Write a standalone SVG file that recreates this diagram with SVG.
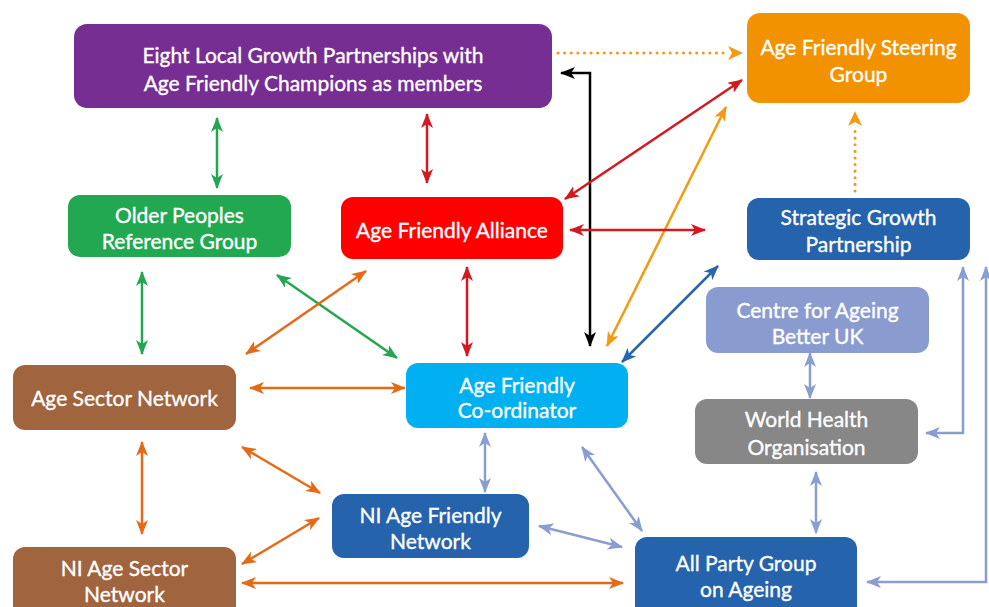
<svg xmlns="http://www.w3.org/2000/svg" width="989" height="607" viewBox="0 0 989 607">
<style>
  .n text { font-family: Lato, "Open Sans", "Liberation Sans", sans-serif; font-size: 21px; fill: #ffffff; stroke: #ffffff; stroke-width: 0.35; text-anchor: middle; }
  .c path { fill: none; stroke-width: 2.5; }
  .c path.head { stroke: none; fill: #f39a12; }
  .g { stroke: #23a651; }
  .r { stroke: #d2191f; }
  .o1 { stroke: #f39a12; }
  .o2 { stroke: #e56a17; }
  .k { stroke: #000000; }
  .b { stroke: #2566b0; }
  .lb { stroke: #8a9dd0; }
  .c path.dot { stroke-dasharray: 0.1 6.5; stroke-linecap: round; stroke-width: 3; }
</style>
<defs>
  <marker id="mg" viewBox="0 0 15 12" markerWidth="15" markerHeight="12" refX="14" refY="6" orient="auto-start-reverse" markerUnits="userSpaceOnUse"><path d="M0,0 L15,6 L0,12 L4,6 Z" fill="#23a651"/></marker>
  <marker id="mr" viewBox="0 0 15 12" markerWidth="15" markerHeight="12" refX="14" refY="6" orient="auto-start-reverse" markerUnits="userSpaceOnUse"><path d="M0,0 L15,6 L0,12 L4,6 Z" fill="#d2191f"/></marker>
  <marker id="mo1" viewBox="0 0 15 12" markerWidth="15" markerHeight="12" refX="14" refY="6" orient="auto-start-reverse" markerUnits="userSpaceOnUse"><path d="M0,0 L15,6 L0,12 L4,6 Z" fill="#f39a12"/></marker>
  <marker id="mo2" viewBox="0 0 15 12" markerWidth="15" markerHeight="12" refX="14" refY="6" orient="auto-start-reverse" markerUnits="userSpaceOnUse"><path d="M0,0 L15,6 L0,12 L4,6 Z" fill="#e56a17"/></marker>
  <marker id="mk" viewBox="0 0 15 12" markerWidth="15" markerHeight="12" refX="14" refY="6" orient="auto-start-reverse" markerUnits="userSpaceOnUse"><path d="M0,0 L15,6 L0,12 L4,6 Z" fill="#000000"/></marker>
  <marker id="mb" viewBox="0 0 15 12" markerWidth="15" markerHeight="12" refX="14" refY="6" orient="auto-start-reverse" markerUnits="userSpaceOnUse"><path d="M0,0 L15,6 L0,12 L4,6 Z" fill="#2566b0"/></marker>
  <marker id="mlb" viewBox="0 0 15 12" markerWidth="15" markerHeight="12" refX="14" refY="6" orient="auto-start-reverse" markerUnits="userSpaceOnUse"><path d="M0,0 L15,6 L0,12 L4,6 Z" fill="#8a9dd0"/></marker>
</defs>
<rect width="989" height="607" fill="#ffffff"/>

<g id="n-lgp" class="n"><rect x="74" y="24" width="478" height="84" rx="13" fill="#762e92"/><text x="313" y="63">Eight Local Growth Partnerships with</text><text x="313" y="91">Age Friendly Champions as members</text></g>
<g id="n-steering" class="n"><rect x="747" y="13" width="223" height="90" rx="13" fill="#f39200"/><text x="858.5" y="55">Age Friendly Steering</text><text x="858.5" y="82">Group</text></g>
<g id="n-oprg" class="n"><rect x="68" y="195" width="223" height="62" rx="12" fill="#23a852"/><text x="179.5" y="223">Older Peoples</text><text x="179.5" y="249">Reference Group</text></g>
<g id="n-afa" class="n"><rect x="341" y="197" width="222" height="62" rx="12" fill="#ff0000"/><text x="452" y="238">Age Friendly Alliance</text></g>
<g id="n-sgp" class="n"><rect x="747" y="198" width="223" height="62" rx="12" fill="#2563ad"/><text x="858.5" y="225">Strategic Growth</text><text x="858.5" y="252">Partnership</text></g>
<g id="n-cab" class="n"><rect x="706" y="287" width="223" height="66" rx="12" fill="#8a9ccf"/><text x="817.5" y="318">Centre for Ageing</text><text x="817.5" y="344">Better UK</text></g>
<g id="n-asn" class="n"><rect x="13" y="365" width="223" height="65" rx="12" fill="#a0643f"/><text x="124.5" y="406">Age Sector Network</text></g>
<g id="n-afc" class="n"><rect x="406" y="363" width="222" height="65" rx="12" fill="#00b0f0"/><text x="517" y="393">Age Friendly</text><text x="517" y="418">Co-ordinator</text></g>
<g id="n-who" class="n"><rect x="695" y="399" width="223" height="65" rx="12" fill="#878787"/><text x="806.5" y="427">World Health</text><text x="806.5" y="455">Organisation</text></g>
<g id="n-niaf" class="n"><rect x="332" y="494" width="197" height="64" rx="12" fill="#2563ad"/><text x="430.5" y="523">NI Age Friendly</text><text x="430.5" y="549">Network</text></g>
<g id="n-niasn" class="n"><rect x="13" y="547" width="223" height="72" rx="12" fill="#a0643f"/><text x="124.5" y="576">NI Age Sector</text><text x="124.5" y="602">Network</text></g>
<g id="n-apg" class="n"><rect x="635" y="537" width="222" height="82" rx="12" fill="#2563ad"/><text x="746" y="571">All Party Group</text><text x="746" y="597">on Ageing</text></g>

<g id="connectors" class="c">
  <path class="o1 dot" d="M558,53 L726,53"/>
  <path class="head" d="M728,46 L743,53 L728,60 L732,53 Z"/>
  <path class="o1 dot" d="M855,191 L855,128"/>
  <path class="head" d="M848,126 L855,111 L862,126 L855,122 Z"/>
  <path class="k" d="M590,346 L590,73 L561,73" marker-start="url(#mk)" marker-end="url(#mk)"/>
  <path class="r" d="M565,199 L742,80" marker-start="url(#mr)" marker-end="url(#mr)"/>
  <path class="o1" d="M607,346 L726,107" marker-start="url(#mo1)" marker-end="url(#mo1)"/>
  <path class="r" d="M570,230 L705,230" marker-start="url(#mr)" marker-end="url(#mr)"/>
  <path class="b" d="M622,362 L718,266" marker-start="url(#mb)" marker-end="url(#mb)"/>
  <path class="lb" d="M810,353 L810,398" marker-start="url(#mlb)" marker-end="url(#mlb)"/>
  <path class="lb" d="M963,267 L963,433 L926,433" marker-start="url(#mlb)" marker-end="url(#mlb)"/>
  <path class="lb" d="M986,267 L986,582 L867,582" marker-start="url(#mlb)" marker-end="url(#mlb)"/>
  <path class="lb" d="M816,472 L816,533" marker-start="url(#mlb)" marker-end="url(#mlb)"/>
  <path class="lb" d="M582,447 L642,531" marker-start="url(#mlb)" marker-end="url(#mlb)"/>
  <path class="lb" d="M539,526 L622,547" marker-start="url(#mlb)" marker-end="url(#mlb)"/>
  <path class="lb" d="M485,433 L485,492" marker-start="url(#mlb)" marker-end="url(#mlb)"/>
  <path class="g" d="M217,118 L217,188" marker-start="url(#mg)" marker-end="url(#mg)"/>
  <path class="r" d="M427,114 L427,183" marker-start="url(#mr)" marker-end="url(#mr)"/>
  <path class="g" d="M142,272 L142,354" marker-start="url(#mg)" marker-end="url(#mg)"/>
  <path class="g" d="M277,275 L397,358" marker-start="url(#mg)" marker-end="url(#mg)"/>
  <path class="o2" d="M246,354 L366,271" marker-start="url(#mo2)" marker-end="url(#mo2)"/>
  <path class="r" d="M467,267 L467,356" marker-start="url(#mr)" marker-end="url(#mr)"/>
  <path class="o2" d="M250,388 L405,388" marker-start="url(#mo2)" marker-end="url(#mo2)"/>
  <path class="o2" d="M142,442 L142,534" marker-start="url(#mo2)" marker-end="url(#mo2)"/>
  <path class="o2" d="M242,447 L320,493" marker-start="url(#mo2)" marker-end="url(#mo2)"/>
  <path class="o2" d="M242,564 L319,518" marker-start="url(#mo2)" marker-end="url(#mo2)"/>
  <path class="o2" d="M242,583 L623,583" marker-start="url(#mo2)" marker-end="url(#mo2)"/>
</g>
</svg>
